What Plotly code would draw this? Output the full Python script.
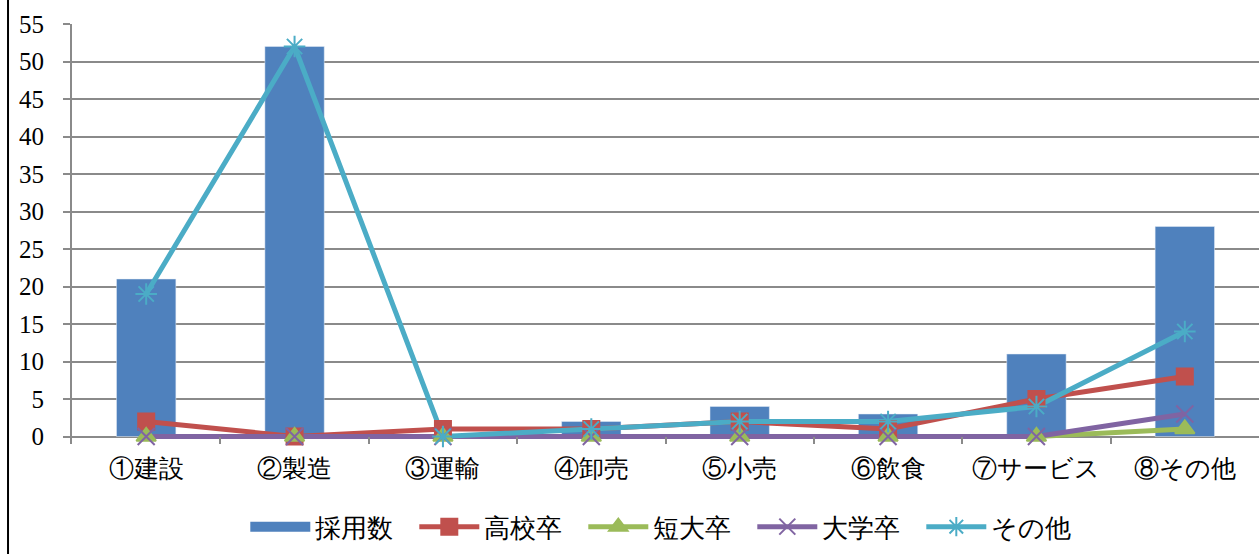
import plotly.graph_objects as go

categories = ["①建設", "②製造", "③運輸", "④卸売", "⑤小売", "⑥飲食", "⑦サービス", "⑧その他"]
hired = [21, 52, 0, 2, 4, 3, 11, 28]
high_school = [2, 0, 1, 1, 2, 1, 5, 8]
junior_college = [0, 0, 0, 0, 0, 0, 0, 1]
university = [0, 0, 0, 0, 0, 0, 0, 3]
other = [19, 52, 0, 1, 2, 2, 4, 14]
y_ticks = list(range(0, 60, 5))

GRID = "#8a8a8a"
FONT = "Liberation Serif, Times New Roman, serif"
BLUE = "#4F81BD"

line_series = [
    ("高校卒", high_school, "#C0504D", dict(symbol="square", size=16)),
    ("短大卒", junior_college, "#9BBB59", dict(symbol="triangle-up", size=17)),
    ("大学卒", university, "#8064A2", dict(symbol="x-thin", size=17)),
    ("その他", other, "#4BACC6", dict(symbol="asterisk", size=18)),
]

fig = go.Figure()
fig.add_trace(go.Bar(x=categories, y=hired, name="採用数", marker_color=BLUE,
                     width=0.4, showlegend=False))

# all connecting lines first, then all markers on top of them
for name, values, color, mk in line_series:
    fig.add_trace(go.Scatter(x=categories, y=values, mode="lines", showlegend=False,
                             line=dict(color=color, width=5), hoverinfo="skip"))
for name, values, color, mk in line_series:
    fig.add_trace(go.Scatter(x=categories, y=values, name=name, mode="markers",
                             showlegend=False, cliponaxis=False,
                             marker=dict(color=color, line=dict(color=color, width=2), **mk)))

# legend entries
fig.add_trace(go.Scatter(x=[None], y=[None], name="採用数", mode="lines",
                         line=dict(color=BLUE, width=14)))
for name, values, color, mk in line_series:
    fig.add_trace(go.Scatter(x=[None], y=[None], name=name, mode="lines+markers",
                             line=dict(color=color, width=5),
                             marker=dict(color=color, line=dict(color=color, width=2), **mk)))

fig.update_layout(
    width=1259, height=554,
    margin=dict(l=72, r=0, t=24, b=110, autoexpand=False),
    paper_bgcolor="white", plot_bgcolor="white",
    font=dict(family=FONT, size=20, color="black"),
    showlegend=True,
    legend=dict(orientation="h", x=0.146, xanchor="left", y=-0.197, yanchor="middle",
                font=dict(size=26), traceorder="normal", itemwidth=60,
                entrywidth=94, entrywidthmode="pixels"),
    bargap=0.6,
)
# the baseline is the zero line; the lower edge sits just below it so that
# the short category ticks hang under the baseline
fig.update_xaxes(type="category", range=[-0.5, 7.5], showgrid=False, showline=False,
                 ticks="inside", tickson="boundaries", ticklen=7, tickcolor=GRID, tickwidth=2,
                 tickfont=dict(size=25), ticklabelstandoff=7)
fig.update_yaxes(range=[-1, 55], tickvals=y_ticks, showgrid=True, gridcolor=GRID, gridwidth=2,
                 zeroline=True, zerolinecolor=GRID, zerolinewidth=2,
                 showline=True, linecolor=GRID, linewidth=2,
                 ticks="outside", ticklen=7, tickcolor=GRID, tickwidth=2,
                 tickfont=dict(size=25), ticklabelstandoff=14)

# frame edge on the left side
fig.add_shape(type="line", xref="paper", yref="paper", x0=-0.0539, x1=-0.0539, y0=-0.5, y1=1.2,
              line=dict(color="black", width=2))

fig.write_html("out.html")
